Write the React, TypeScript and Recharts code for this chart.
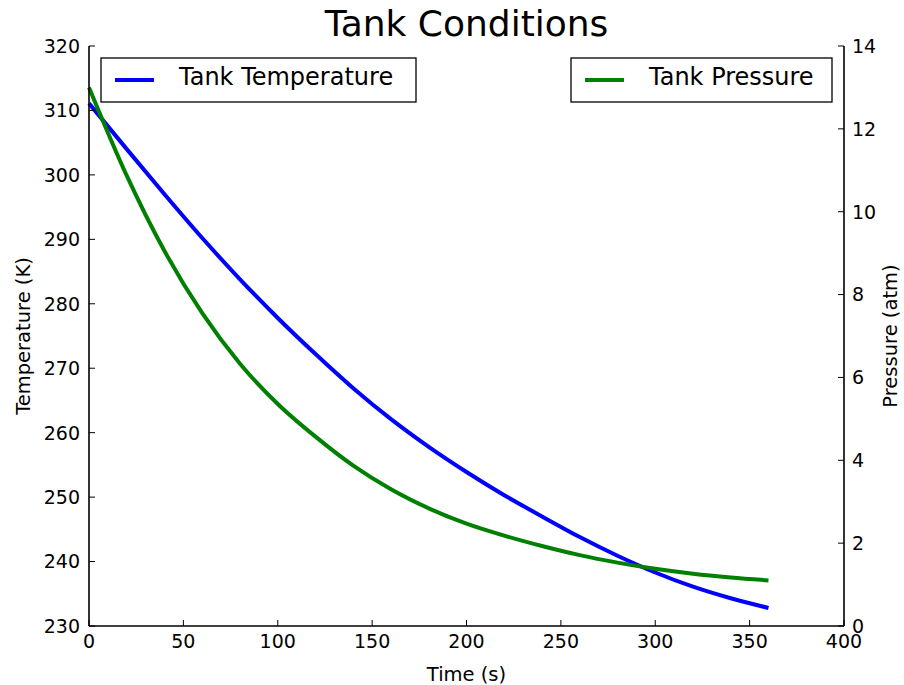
import React from "react";
import { Label, Legend, Line, LineChart, XAxis, YAxis } from "recharts";

// values
const timeS = [0, 20, 40, 60, 80, 100, 120, 140, 160, 180, 200, 220, 240, 260, 280, 300, 320, 340, 360];
const temperatureK = [
  311.1, 304.0, 297.0, 290.2, 283.8, 277.8, 272.2, 266.9, 262.1, 257.8, 253.9, 250.3, 247.0, 243.8,
  240.9, 238.3, 236.1, 234.3, 232.8,
];
const pressureAtm = [
  13.0, 10.87, 9.05, 7.55, 6.33, 5.36, 4.57, 3.87, 3.3, 2.84, 2.47, 2.18, 1.93, 1.71, 1.53, 1.38,
  1.26, 1.17, 1.1,
];
const timeTicks = [0, 50, 100, 150, 200, 250, 300, 350, 400];
const temperatureTicks = [230, 240, 250, 260, 270, 280, 290, 300, 310, 320];
const pressureTicks = [0, 2, 4, 6, 8, 10, 12, 14];

const data = timeS.map((t, i) => ({ t, temp: temperatureK[i], pres: pressureAtm[i] }));

const FONT = "'DejaVu Sans', sans-serif";
const TICK = 6;

const BottomTick = ({ x, y, payload }: any) => (
  <g>
    <line x1={x} x2={x} y1={y} y2={y - TICK} stroke="#000" strokeWidth={1} />
    <text x={x} y={y + 22} textAnchor="middle" fontFamily={FONT} fontSize={19} fill="#000">
      {payload.value}
    </text>
  </g>
);

const TopTick = ({ x, y }: any) => (
  <line x1={x} x2={x} y1={y} y2={y + TICK} stroke="#000" strokeWidth={1} />
);

const LeftTick = ({ x, y, payload }: any) => (
  <g>
    <line x1={x} x2={x + TICK} y1={y} y2={y} stroke="#000" strokeWidth={1} />
    <text x={x - 9} y={y} dy="0.36em" textAnchor="end" fontFamily={FONT} fontSize={19} fill="#000">
      {payload.value}
    </text>
  </g>
);

const RightTick = ({ x, y, payload }: any) => (
  <g>
    <line x1={x - TICK} x2={x} y1={y} y2={y} stroke="#000" strokeWidth={1} />
    <text x={x + 8} y={y} dy="0.36em" textAnchor="start" fontFamily={FONT} fontSize={19} fill="#000">
      {payload.value}
    </text>
  </g>
);

// framed legend boxes: temperature upper-left, pressure upper-right
const legendBoxes: Record<string, { x: number; w: number }> = {
  temp: { x: 101, w: 315 },
  pres: { x: 571, w: 261 },
};

const TankLegend = ({ payload }: any) => (
  <svg width={904} height={685} style={{ position: "absolute", left: 0, top: 0, overflow: "visible" }}>
    {(payload || []).map((p: any) => {
      const b = legendBoxes[p.dataKey];
      if (!b) return null;
      return (
        <g key={p.dataKey}>
          <rect x={b.x} y={58} width={b.w} height={44} fill="#fff" stroke="#000" strokeWidth={1.3} />
          <line x1={b.x + 14} x2={b.x + 53} y1={80} y2={80} stroke={p.color} strokeWidth={4} />
          <text x={b.x + 78} y={85} fontFamily={FONT} fontSize={24} fill="#000">
            {p.value}
          </text>
        </g>
      );
    })}
  </svg>
);

export default function App() {
  return (
    <div style={{ position: "absolute", left: 0, top: 0, width: 904, height: 685, background: "#fff" }}>
      <div
        style={{
          position: "absolute",
          left: 89,
          top: 6,
          width: 755,
          textAlign: "center",
          fontFamily: FONT,
          fontSize: 36,
          lineHeight: "36px",
          color: "#000",
        }}
      >
        Tank Conditions
      </div>
      <LineChart width={904} height={685} data={data} margin={{ top: 46, right: 0, bottom: 0, left: 0 }}>
        <XAxis
          dataKey="t"
          type="number"
          domain={[0, 400]}
          ticks={timeTicks}
          height={59}
          tickLine={false}
          tickSize={0}
          tickMargin={0}
          tick={<BottomTick />}
          axisLine={{ stroke: "#000", strokeWidth: 1.6 }}
        >
          <Label
            content={({ viewBox }: any) => (
              <text
                x={viewBox.x + viewBox.width / 2}
                y={viewBox.y + 55}
                textAnchor="middle"
                fontFamily={FONT}
                fontSize={19.5}
                fill="#000"
              >
                Time (s)
              </text>
            )}
          />
        </XAxis>
        <XAxis
          xAxisId="top"
          orientation="top"
          dataKey="t"
          type="number"
          domain={[0, 400]}
          ticks={timeTicks}
          height={0}
          tickLine={false}
          tickSize={0}
          tickMargin={0}
          tick={<TopTick />}
          axisLine={{ stroke: "#000", strokeWidth: 1.6 }}
        />
        <YAxis
          yAxisId="T"
          orientation="left"
          domain={[230, 320]}
          ticks={temperatureTicks}
          width={89}
          tickLine={false}
          tickSize={0}
          tickMargin={0}
          tick={<LeftTick />}
          axisLine={{ stroke: "#000", strokeWidth: 1.6 }}
        >
          <Label
            content={({ viewBox }: any) => {
              const lx = viewBox.x + 30;
              const ly = viewBox.y + viewBox.height / 2;
              return (
                <text
                  x={lx}
                  y={ly}
                  transform={`rotate(-90, ${lx}, ${ly})`}
                  textAnchor="middle"
                  fontFamily={FONT}
                  fontSize={19.5}
                  fill="#000"
                >
                  Temperature (K)
                </text>
              );
            }}
          />
        </YAxis>
        <YAxis
          yAxisId="P"
          orientation="right"
          domain={[0, 14]}
          ticks={pressureTicks}
          width={60}
          tickLine={false}
          tickSize={0}
          tickMargin={0}
          tick={<RightTick />}
          axisLine={{ stroke: "#000", strokeWidth: 1.6 }}
        >
          <Label
            content={({ viewBox }: any) => {
              const lx = viewBox.x + 53;
              const ly = viewBox.y + viewBox.height / 2;
              return (
                <text
                  x={lx}
                  y={ly}
                  transform={`rotate(-90, ${lx}, ${ly})`}
                  textAnchor="middle"
                  fontFamily={FONT}
                  fontSize={19.5}
                  fill="#000"
                >
                  Pressure (atm)
                </text>
              );
            }}
          />
        </YAxis>
        <Line
          yAxisId="T"
          type="monotone"
          dataKey="temp"
          name="Tank Temperature"
          stroke="#0000ff"
          strokeWidth={4}
          dot={false}
          isAnimationActive={false}
        />
        <Line
          yAxisId="P"
          type="monotone"
          dataKey="pres"
          name="Tank Pressure"
          stroke="#008000"
          strokeWidth={4}
          dot={false}
          isAnimationActive={false}
        />
        <Legend
          content={<TankLegend />}
          wrapperStyle={{ left: 0, top: 0, width: 904, height: 0, overflow: "visible" }}
        />
      </LineChart>
    </div>
  );
}
